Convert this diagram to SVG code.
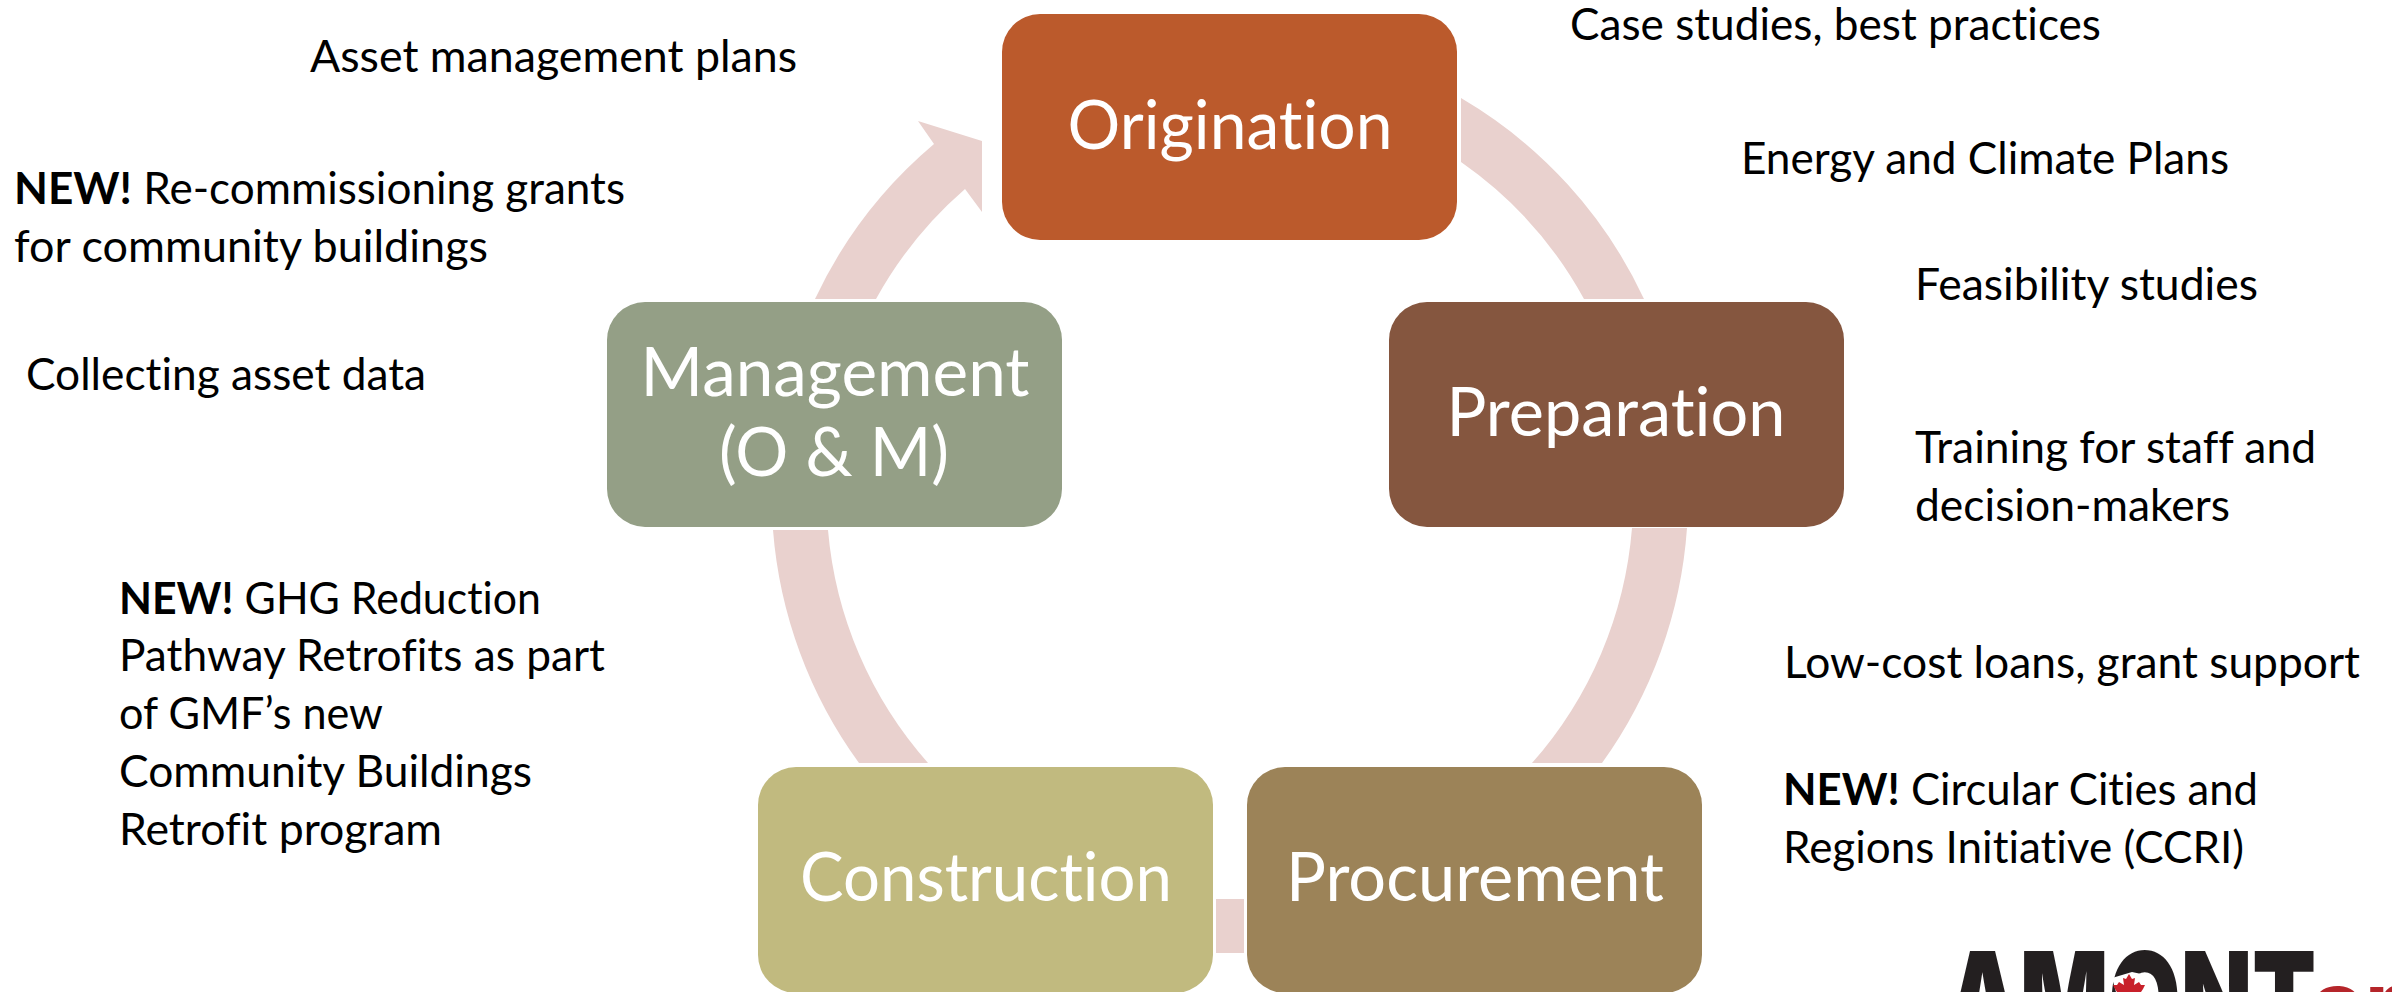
<svg xmlns="http://www.w3.org/2000/svg" width="2392" height="992" viewBox="0 0 2392 992">
<style>
.box{stroke:none}
.t{font-family:Lato,"Liberation Sans",sans-serif;font-size:44.7px;fill:#000;font-variant-ligatures:none}
.n{font-family:Lato,"Liberation Sans",sans-serif;font-size:67px;fill:#fff;text-anchor:middle;font-variant-ligatures:none}
.a{fill:#e9d1ce}
</style>
<rect width="2392" height="992" fill="#fff"/>
<g id="connectors">
<path class="a" d="M1461 98A457 457 0 0 1 1644 299L1584 299A403 403 0 0 0 1461 162Z"/>
<path class="a" d="M1687 528A457 457 0 0 1 1602 763L1532 763A403 403 0 0 0 1632 528Z"/>
<rect class="a" x="1216" y="899" width="28" height="54"/>
<path class="a" d="M928 763A403 403 0 0 1 828 530L773 530A457 457 0 0 0 859 763Z"/>
<path class="a" d="M815 299A457 457 0 0 1 934 144L918 121L982 141L982 212L965 189A403 403 0 0 0 876 299Z"/>
</g>
<g id="origination"><rect class="box" x="1002" y="14" width="455" height="226" rx="38" fill="#bb5a2c"/><text class="n" x="1230" y="149" textLength="325" lengthAdjust="spacingAndGlyphs">Origination</text></g>
<g id="preparation"><rect class="box" x="1389" y="302" width="455" height="225" rx="38" fill="#85563f"/><text class="n" x="1616" y="436" textLength="339" lengthAdjust="spacingAndGlyphs">Preparation</text></g>
<g id="procurement"><rect class="box" x="1247" y="767" width="455" height="226" rx="38" fill="#9c8358"/><text class="n" x="1475" y="901" textLength="378" lengthAdjust="spacingAndGlyphs">Procurement</text></g>
<g id="construction"><rect class="box" x="758" y="767" width="455" height="226" rx="38" fill="#c1ba7f"/><text class="n" x="986" y="901" textLength="372" lengthAdjust="spacingAndGlyphs">Construction</text></g>
<g id="management"><rect class="box" x="607" y="302" width="455" height="225" rx="38" fill="#949f86"/><text class="n" x="835" y="396" textLength="389" lengthAdjust="spacingAndGlyphs">Management</text><text class="n" x="834" y="476" textLength="230" lengthAdjust="spacingAndGlyphs">(O &amp; M)</text></g>
<g id="labels">
<text class="t" x="310" y="72" textLength="487" lengthAdjust="spacingAndGlyphs">Asset management plans</text>
<text class="t" x="14" y="204" textLength="611" lengthAdjust="spacingAndGlyphs"><tspan font-weight="700">NEW!</tspan> Re-commissioning grants</text>
<text class="t" x="14" y="262" textLength="474" lengthAdjust="spacingAndGlyphs">for community buildings</text>
<text class="t" x="26" y="390" textLength="400" lengthAdjust="spacingAndGlyphs">Collecting asset data</text>
<text class="t" x="119" y="614" textLength="422" lengthAdjust="spacingAndGlyphs"><tspan font-weight="700">NEW!</tspan> GHG Reduction</text>
<text class="t" x="119" y="671" textLength="486" lengthAdjust="spacingAndGlyphs">Pathway Retrofits as part</text>
<text class="t" x="119" y="729" textLength="264" lengthAdjust="spacingAndGlyphs">of GMF’s new</text>
<text class="t" x="119" y="787" textLength="413" lengthAdjust="spacingAndGlyphs">Community Buildings</text>
<text class="t" x="119" y="845" textLength="323" lengthAdjust="spacingAndGlyphs">Retrofit program</text>
<text class="t" x="1570" y="40" textLength="531" lengthAdjust="spacingAndGlyphs">Case studies, best practices</text>
<text class="t" x="1741" y="174" textLength="488" lengthAdjust="spacingAndGlyphs">Energy and Climate Plans</text>
<text class="t" x="1915" y="300" textLength="343" lengthAdjust="spacingAndGlyphs">Feasibility studies</text>
<text class="t" x="1915" y="463" textLength="401" lengthAdjust="spacingAndGlyphs">Training for staff and</text>
<text class="t" x="1915" y="521" textLength="315" lengthAdjust="spacingAndGlyphs">decision-makers</text>
<text class="t" x="1784" y="678" textLength="576" lengthAdjust="spacingAndGlyphs">Low-cost loans, grant support</text>
<text class="t" x="1783" y="805" textLength="475" lengthAdjust="spacingAndGlyphs"><tspan font-weight="700">NEW!</tspan> Circular Cities and</text>
<text class="t" x="1783" y="863" textLength="461" lengthAdjust="spacingAndGlyphs">Regions Initiative (CCRI)</text>
</g>
<g id="logo">
<text x="1946" y="1046" font-family="Inter,'Liberation Sans',sans-serif" font-weight="900" font-size="130" fill="#231f20" textLength="370" lengthAdjust="spacingAndGlyphs">AMONT</text>
<path d="M2116 992L2112 978L2132 972L2146 975L2150 992Z" fill="#fff"/>
<path d="M2129 974l3 5 3-1-1 7 5-3 2 3 4 0-2 4-2 3-12 0-12 0-2-3-2-4 4 0 2-3 5 3-1-7 3 1Z" fill="#c8202a"/>
<text x="2311" y="1037" font-family="Inter,'Liberation Sans',sans-serif" font-weight="700" font-size="92" fill="#b5252a">ar</text>
</g>
</svg>
